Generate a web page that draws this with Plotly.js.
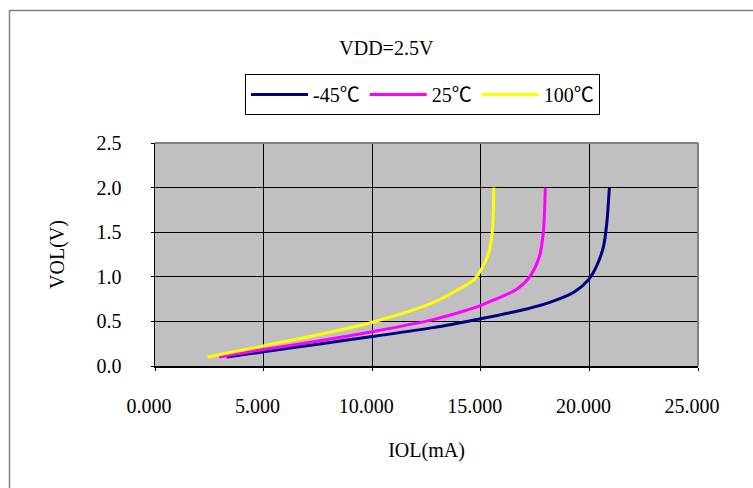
<!DOCTYPE html>
<html>
<head>
<meta charset="utf-8">
<script src="https://cdn.plot.ly/plotly-3.0.1.min.js"></script>
<style>html,body{margin:0;padding:0;background:#fff;}#chart{width:753px;height:488px;}</style>
</head>
<body>
<div id="chart"></div>
<script>
// Series names
const seriesNames = ["-45\u2103", "25\u2103", "100\u2103"];
// IOL (mA) and VOL (V) per temperature
const iolNeg45 = [3.3, 5.0, 7.5, 10.0, 12.8, 15.0, 16.5, 18.0, 19.3, 20.0, 20.35, 20.65, 20.8, 20.92];
const volNeg45 = [0.10, 0.16, 0.245, 0.33, 0.43, 0.53, 0.605, 0.70, 0.83, 0.98, 1.13, 1.34, 1.6, 2.0];
const iol25 = [2.95, 5.0, 7.5, 10.0, 12.8, 14.0, 15.0, 15.6, 16.65, 17.25, 17.7, 17.88, 17.97];
const vol25 = [0.10, 0.185, 0.28, 0.385, 0.52, 0.60, 0.68, 0.74, 0.86, 1.0, 1.23, 1.5, 2.0];
const iol100 = [2.42, 5.0, 7.5, 10.0, 12.8, 14.05, 14.65, 15.04, 15.35, 15.53, 15.6];
const vol100 = [0.10, 0.225, 0.35, 0.49, 0.71, 0.87, 0.96, 1.09, 1.26, 1.5, 2.0];
const xTicks = [0, 5, 10, 15, 20, 25];
const yTicks = [0, 0.5, 1.0, 1.5, 2.0, 2.5];

const FONT = "'Liberation Serif', 'Noto Sans CJK SC', serif";
const FS = 20;
const colors = ["#000080", "#FF00FF", "#FFFF00"];

const traces = [
  {x: iolNeg45, y: volNeg45, name: seriesNames[0]},
  {x: iol25, y: vol25, name: seriesNames[1]},
  {x: iol100, y: vol100, name: seriesNames[2]}
].map((t, i) => Object.assign(t, {
  type: "scatter", mode: "lines",
  line: {color: colors[i], width: 3, shape: "spline", smoothing: 0.8},
  hoverinfo: "skip"
}));

const layout = {
  width: 753, height: 488,
  margin: {l: 155, r: 55, t: 143, b: 122, pad: 0},
  paper_bgcolor: "#ffffff",
  plot_bgcolor: "#C0C0C0",
  font: {family: FONT, color: "#000", size: FS},
  title: {
    text: "VDD=2.5V",
    font: {family: FONT, size: FS, color: "#000"},
    x: 0.426, xref: "paper", xanchor: "center",
    y: 1 - 48 / 488, yref: "container", yanchor: "middle"
  },
  showlegend: true,
  legend: {
    orientation: "h",
    x: (245 - 155) / 543, xanchor: "left",
    y: (366 - 74) / 223, yanchor: "top",
    bgcolor: "#ffffff", bordercolor: "#000", borderwidth: 1,
    font: {family: FONT, size: FS, color: "#000"},
    itemwidth: 57
  },
  xaxis: {
    range: [0, 25], tickvals: xTicks, tickformat: ".3f",
    showgrid: true, gridcolor: "#000", gridwidth: 1,
    showline: true, linecolor: "#000", linewidth: 1.5,
    ticks: "outside", ticklen: 3, tickcolor: "#000",
    ticklabelstandoff: 18, ticklabelshift: -6,
    zeroline: false, fixedrange: true,
    tickfont: {family: FONT, size: FS, color: "#000"},
    title: {text: "IOL(mA)", font: {family: FONT, size: FS, color: "#000"}, standoff: 27}
  },
  yaxis: {
    range: [0, 2.5], tickvals: yTicks, tickformat: ".1f",
    showgrid: true, gridcolor: "#000", gridwidth: 1,
    showline: true, linecolor: "#000", linewidth: 1.5,
    ticks: "outside", ticklen: 3, tickcolor: "#000",
    ticklabelstandoff: 25,
    zeroline: false, fixedrange: true,
    tickfont: {family: FONT, size: FS, color: "#000"},
    title: {text: "VOL(V)", font: {family: FONT, size: FS, color: "#000"}, standoff: 26}
  },
  shapes: [
    // outer chart frame
    {type: "rect", xref: "paper", yref: "paper", x0: (9.5 - 155) / 543, x1: 2, y0: -1, y1: (366 - 10.5) / 223,
     line: {color: "#7f7f7f", width: 1.5}, fillcolor: "rgba(0,0,0,0)", layer: "below"},
    // plot area top and right edges (gray)
    {type: "line", xref: "paper", yref: "paper", x0: 0, x1: 1, y0: 1, y1: 1, line: {color: "#808080", width: 2}, layer: "above"},
    {type: "line", xref: "paper", yref: "paper", x0: 1, x1: 1, y0: 0, y1: 1, line: {color: "#808080", width: 2}, layer: "above"}
  ]
};

Plotly.newPlot("chart", traces, layout, {displayModeBar: false, staticPlot: true});
</script>
</body>
</html>
